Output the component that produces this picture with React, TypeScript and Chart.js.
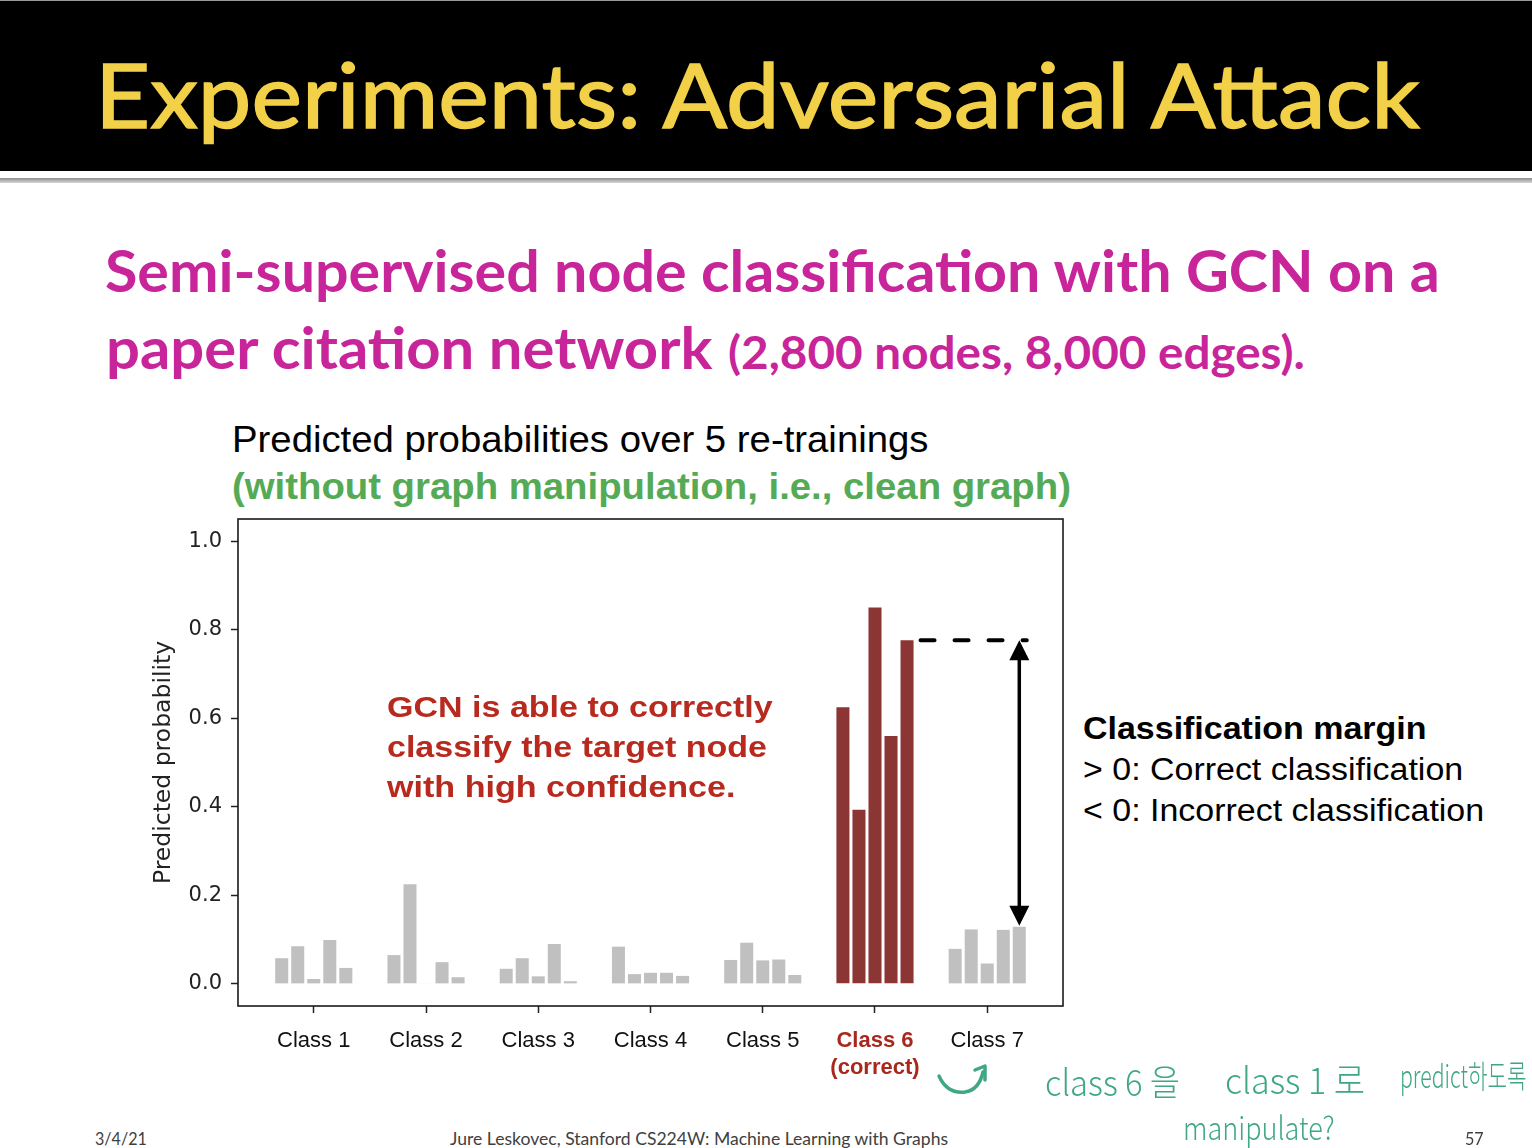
import React, { useEffect, useLayoutEffect, useRef, useState } from "react";
import { Chart, registerables } from "chart.js";

Chart.register(...registerables);

// ---------- data ----------
const classLabels: (string | string[])[] = [
  "Class 1",
  "Class 2",
  "Class 3",
  "Class 4",
  "Class 5",
  ["Class 6", "(correct)"],
  "Class 7",
];
const correctIndex = 5;
// predicted probability per class, one array per re-training
const run1 = [0.058, 0.065, 0.034, 0.084, 0.054, 0.625, 0.079];
const run2 = [0.085, 0.225, 0.058, 0.022, 0.093, 0.393, 0.123];
const run3 = [0.011, 0.001, 0.017, 0.025, 0.053, 0.85, 0.046];
const run4 = [0.099, 0.049, 0.09, 0.025, 0.055, 0.56, 0.122];
const run5 = [0.036, 0.015, 0.006, 0.018, 0.02, 0.776, 0.129];
const runs = [run1, run2, run3, run4, run5];
const yTicks = [0, 0.2, 0.4, 0.6, 0.8, 1.0];

// ---------- styles ----------
const GRAY = "#c0c0c0";
const RED = "#8c3535";
const RED_TXT = "#a8281e";
const LATO = 'Lato, "Open Sans", sans-serif';
const ARIAL = '"Liberation Sans", Arial, sans-serif';
const CJK = '"Noto Sans CJK KR", sans-serif';
const K_LATO = 0.887;
const K_ARIAL = 0.8465;
const K_CJK = 0.936;

function T(props: any) {
  const { x, b, w, s, f, wt = 400, c, k, children, st } = props;
  const ref = useRef<HTMLSpanElement>(null);
  const [sc, setSc] = useState(1);
  useLayoutEffect(() => {
    const el = ref.current;
    if (el && w) {
      const nw = el.offsetWidth;
      if (nw > 0) setSc(w / nw);
    }
  }, [w]);
  return (
    <div
      style={{
        position: "absolute",
        left: x,
        top: b - k * s,
        whiteSpace: "nowrap",
        fontFamily: f,
        fontSize: s,
        fontWeight: wt,
        color: c,
        lineHeight: 1,
        transform: `scaleX(${sc})`,
        transformOrigin: "0 0",
        ...(st || {}),
      }}
    >
      <span ref={ref}>{children}</span>
    </div>
  );
}

const marginPlugin = {
  id: "marginAnnot",
  afterDatasetsDraw(chart: any) {
    const { ctx, scales } = chart;
    const meta = chart.getDatasetMeta(runs.length - 1);
    const b6: any = meta.data[correctIndex];
    const b7: any = meta.data[6];
    if (!b6 || !b7) return;
    const yTop = scales.y.getPixelForValue(run5[correctIndex]);
    const yBot = scales.y.getPixelForValue(run5[6]);
    ctx.save();
    // dashed reference line
    ctx.strokeStyle = "#000";
    ctx.lineWidth = 4;
    ctx.lineCap = "round";
    ctx.setLineDash([14, 20]);
    ctx.beginPath();
    ctx.moveTo(b6.x + b6.width / 2 + 7, yTop);
    ctx.lineTo(b7.x + b7.width / 2 + 1, yTop);
    ctx.stroke();
    ctx.setLineDash([]);
    // double arrow
    const ax = b7.x;
    const head = 20;
    const hw = 10;
    ctx.lineCap = "butt";
    ctx.lineWidth = 3.5;
    ctx.beginPath();
    ctx.moveTo(ax, yTop + head - 2);
    ctx.lineTo(ax, yBot - head + 2);
    ctx.stroke();
    ctx.fillStyle = "#000";
    ctx.beginPath();
    ctx.moveTo(ax, yTop);
    ctx.lineTo(ax - hw, yTop + head);
    ctx.lineTo(ax + hw, yTop + head);
    ctx.closePath();
    ctx.fill();
    ctx.beginPath();
    ctx.moveTo(ax, yBot - 1);
    ctx.lineTo(ax - hw, yBot - head - 1);
    ctx.lineTo(ax + hw, yBot - head - 1);
    ctx.closePath();
    ctx.fill();
    ctx.restore();
  },
  afterDraw(chart: any) {
    const { ctx, chartArea } = chart;
    ctx.save();
    ctx.strokeStyle = "#1a1a1a";
    ctx.lineWidth = 1.6;
    ctx.strokeRect(
      chartArea.left,
      chartArea.top,
      chartArea.right - chartArea.left,
      chartArea.bottom - chartArea.top
    );
    ctx.restore();
  },
};

function BarChart() {
  const ref = useRef<HTMLCanvasElement>(null);
  useEffect(() => {
    if (!ref.current) return;
    const chart = new Chart(ref.current, {
      type: "bar",
      data: {
        datasets: runs.map((r, i) => ({
          label: `Re-training ${i + 1}`,
          data: r.map((v, j) => ({ x: j, y: v })),
          backgroundColor: r.map((_, j) => (j === correctIndex ? RED : GRAY)),
          borderWidth: 0,
          categoryPercentage: 0.714,
          barPercentage: 0.8125,
        })),
      },
      options: {
        animation: false,
        responsive: false,
        maintainAspectRatio: false,
        layout: { padding: { top: 10, right: 12, left: 0, bottom: 0 } },
        plugins: { legend: { display: false }, tooltip: { enabled: false } },
        scales: {
          x: {
            type: "linear",
            min: -0.675,
            max: 6.675,
            offset: false,
            border: { display: false },
            grid: {
              offset: false,
              drawOnChartArea: false,
              drawTicks: true,
              tickLength: 7,
              tickWidth: 1.5,
              tickColor: "#222",
            },
            afterBuildTicks: (axis: any) => {
              axis.ticks = classLabels.map((_, i) => ({ value: i }));
            },
            afterFit: (s: any) => {
              s.height = 93;
              s.paddingLeft = 0;
              s.paddingRight = 0;
            },
            ticks: {
              autoSkip: false,
              maxRotation: 0,
              minRotation: 0,
              padding: 15,
              callback: (v: any) => classLabels[Math.round(Number(v))] as any,
              color: (ctx: any) => (ctx.index === correctIndex ? RED_TXT : "#111"),
              font: (ctx: any) => ({
                family: ARIAL,
                size: 22,
                weight: ctx.index === correctIndex ? "bold" : "normal",
                lineHeight: 1.2,
              }),
            } as any,
          },
          y: {
            min: -0.05,
            max: 1.05,
            border: { display: false },
            grid: {
              drawOnChartArea: false,
              drawTicks: true,
              tickLength: 7,
              tickWidth: 1.5,
              tickColor: "#222",
            },
            afterBuildTicks: (axis: any) => {
              axis.ticks = yTicks.map((v) => ({ value: v }));
            },
            afterFit: (s: any) => {
              s.width = 98;
              s.paddingTop = 0;
              s.paddingBottom = 0;
            },
            ticks: {
              padding: 9,
              color: "#222",
              font: { family: '"DejaVu Sans", sans-serif', size: 21 },
              callback: (v: any) => Number(v).toFixed(1),
            },
            title: {
              display: true,
              text: "Predicted probability",
              color: "#222",
              font: { family: '"DejaVu Sans", sans-serif', size: 23.5 },
              padding: { top: 10, bottom: 0 },
            },
          },
        },
      },
      plugins: [marginPlugin],
    } as any);
    return () => chart.destroy();
  }, []);
  return (
    <canvas
      ref={ref}
      width={935}
      height={590}
      style={{ position: "absolute", left: 140, top: 509, width: 935, height: 590 }}
    />
  );
}

export default function App() {
  const MAG = "#c8259a";
  const GREEN = "#55aa55";
  const HAND = "#3fa882";
  return (
    <div
      style={{
        position: "absolute",
        left: 0,
        top: 0,
        width: 1532,
        height: 1148,
        overflow: "hidden",
        background: "#fff",
      }}
    >
      {/* header */}
      <div style={{ position: "absolute", left: 0, top: 0, width: 1532, height: 1, background: "#999" }} />
      <div style={{ position: "absolute", left: 0, top: 1, width: 1532, height: 170, background: "#000" }} />
      <div
        style={{
          position: "absolute",
          left: 0,
          top: 178,
          width: 1532,
          height: 5,
          background: "linear-gradient(#8c8c8c, #d8d8d8)",
        }}
      />
      <T
        x={95}
        b={128}
        w={1325}
        s={90}
        f={LATO}
        k={K_LATO}
        c="#f2d048"
        st={{ WebkitTextStroke: "1.5px #f2d048" }}
      >
        Experiments: Adversarial Attack
      </T>

      {/* subtitle */}
      <T x={105} b={293} w={1335} s={57} f={LATO} wt={700} k={K_LATO} c={MAG}>
        Semi-supervised node classification with GCN on a
      </T>
      <T x={106} b={370} w={606} s={57} f={LATO} wt={700} k={K_LATO} c={MAG}>
        paper citation network
      </T>
      <T x={728} b={370} w={577} s={45} f={LATO} wt={700} k={K_LATO} c={MAG}>
        (2,800 nodes, 8,000 edges).
      </T>

      {/* chart heading */}
      <T x={232} b={452} w={697} s={37} f={ARIAL} k={K_ARIAL} c="#000">
        Predicted probabilities over 5 re-trainings
      </T>
      <T x={232} b={499} w={839} s={37} f={ARIAL} wt={700} k={K_ARIAL} c={GREEN}>
        (without graph manipulation, i.e., clean graph)
      </T>

      <BarChart />

      {/* annotation inside chart */}
      <T x={387} b={718} w={386} s={29} f={ARIAL} wt={700} k={K_ARIAL} c="#b8291e">
        GCN is able to correctly
      </T>
      <T x={387} b={758} w={380} s={29} f={ARIAL} wt={700} k={K_ARIAL} c="#b8291e">
        classify the target node
      </T>
      <T x={387} b={798} w={348} s={29} f={ARIAL} wt={700} k={K_ARIAL} c="#b8291e">
        with high confidence.
      </T>

      {/* right-side explanation */}
      <T x={1083} b={739} w={344} s={31} f={ARIAL} wt={700} k={K_ARIAL} c="#000">
        Classification margin
      </T>
      <T x={1083} b={780} w={380} s={31} f={ARIAL} k={K_ARIAL} c="#000">
        {"> 0: Correct classification"}
      </T>
      <T x={1083} b={821} w={401} s={31} f={ARIAL} k={K_ARIAL} c="#000">
        {"< 0: Incorrect classification"}
      </T>

      {/* handwritten notes */}
      <svg
        style={{ position: "absolute", left: 925, top: 1050, width: 80, height: 60 }}
        viewBox="0 0 80 60"
      >
        <path
          d="M14 26 Q22 44 40 42 Q54 40 58 22"
          fill="none"
          stroke={HAND}
          strokeWidth={3.5}
          strokeLinecap="round"
        />
        <path
          d="M50 20 L60 16 L60 30"
          fill="none"
          stroke={HAND}
          strokeWidth={3.5}
          strokeLinecap="round"
          strokeLinejoin="round"
        />
      </svg>
      <T x={1045} b={1096} w={135} s={36} f={CJK} wt={300} k={K_CJK} c={HAND}>
        class 6 을
      </T>
      <T x={1225} b={1094} w={140} s={36} f={CJK} wt={300} k={K_CJK} c={HAND}>
        class 1 로
      </T>
      <T x={1400} b={1088} w={127} s={32} f={CJK} wt={300} k={K_CJK} c={HAND}>
        predict하도록
      </T>
      <T x={1183} b={1140} w={152} s={32} f={CJK} wt={300} k={K_CJK} c={HAND}>
        manipulate?
      </T>

      {/* footer */}
      <T x={95} b={1145} w={52} s={17} f={LATO} k={K_LATO} c="#404040">
        3/4/21
      </T>
      <T x={450} b={1145} w={498} s={17} f={LATO} k={K_LATO} c="#404040">
        Jure Leskovec, Stanford CS224W: Machine Learning with Graphs
      </T>
      <T x={1465} b={1145} w={19} s={17} f={LATO} k={K_LATO} c="#404040">
        57
      </T>
    </div>
  );
}
